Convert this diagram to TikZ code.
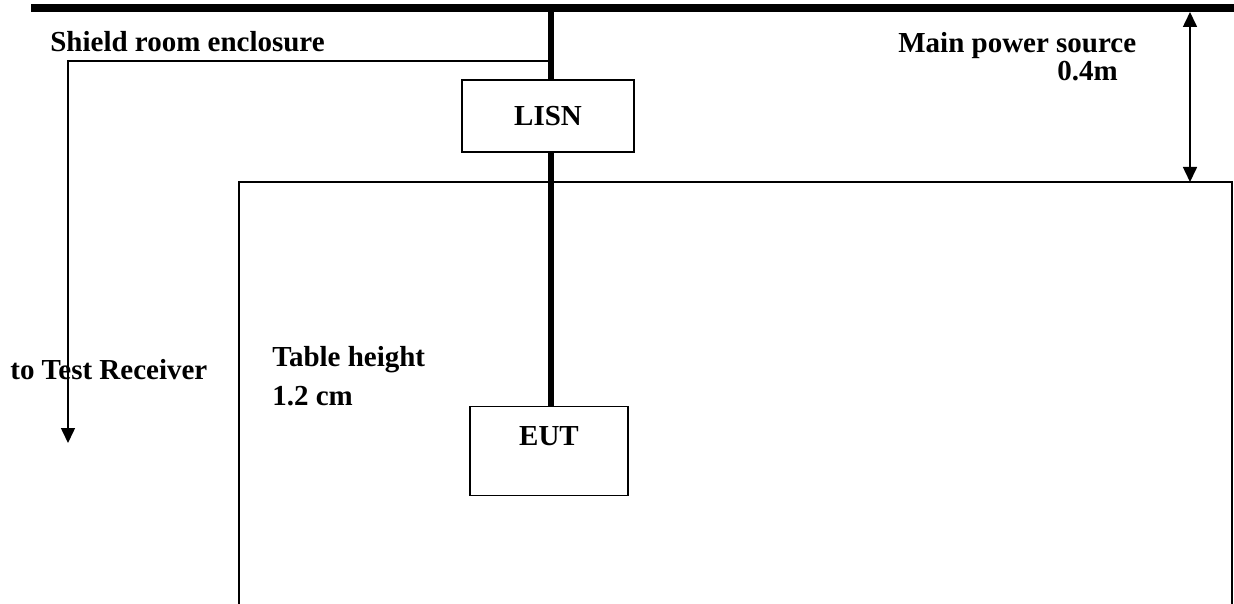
\documentclass[tikz,border=0pt]{standalone}
\usepackage{fontspec}
\setmainfont{Liberation Serif}
\usetikzlibrary{arrows.meta}

\begin{document}
\begin{tikzpicture}[x=0.02cm, y=-0.02cm,
  every node/.style={font=\fontsize{16.5}{20}\selectfont\bfseries},
  txt/.style={anchor=base west, inner sep=0pt},
  box/.style={draw, line width=1.1pt, rectangle, inner sep=0pt},
  power/.style={line width=3.4pt},
  wire/.style={line width=0.9pt},
  tri/.tip={Triangle[length=0.3cm, width=0.28cm]}]
  \useasboundingbox (0,0) rectangle (1234,604);
  % Main power line along the top
  \coordinate (bar0) at (31,8);
  \coordinate (bar1) at (1234,8);
  \draw[line width=4pt] (bar0) -- (bar1);
  \coordinate (feed) at (551,8);
  \coordinate (tap) at (549,61);
  \coordinate (corner) at (68,61);
  \coordinate (rx) at (68,443);
  % Table
  \coordinate (t0) at (239,604);
  \coordinate (t1) at (239,182);
  \coordinate (t2) at (1232,182);
  \coordinate (t3) at (1232,604);
  \draw[wire] (t0) -- (t1) -- (t2) -- (t3);
  % Boxes
  \node[box, minimum width=3.44cm, minimum height=1.44cm] (lisn) at (548,116) {LISN};
  \node[box, minimum width=3.16cm, minimum height=1.78cm,
        label={[anchor=north, inner sep=0pt, yshift=-0.42cm]north:EUT}] (eut) at (549,451) {};
  % Labels
  \node[txt] (shield) at (50,52) {Shield room enclosure};
  \node[txt] (mains) at (898,53) {Main power source};
  \node[txt] (dist) at (1057,81) {0.4m};
  \node[txt] (recv) at (10,380) {to Test Receiver};
  \node[txt] (table) at (272,367) {Table height};
  \node[txt] (tableh) at (272,406) {1.2 cm};
  % Draw the connections
  \draw[power] (feed) -- (feed |- lisn.north);
  \draw[power] (lisn.south -| feed) -- (eut.north -| feed);
  \draw[wire, -tri] (tap) -- (corner) -- (rx);
  \coordinate (d0) at (1190,12);
  \coordinate (d1) at (1190,182);
  \draw[wire, tri-tri] (d0) -- (d1);
\end{tikzpicture}
\end{document}
